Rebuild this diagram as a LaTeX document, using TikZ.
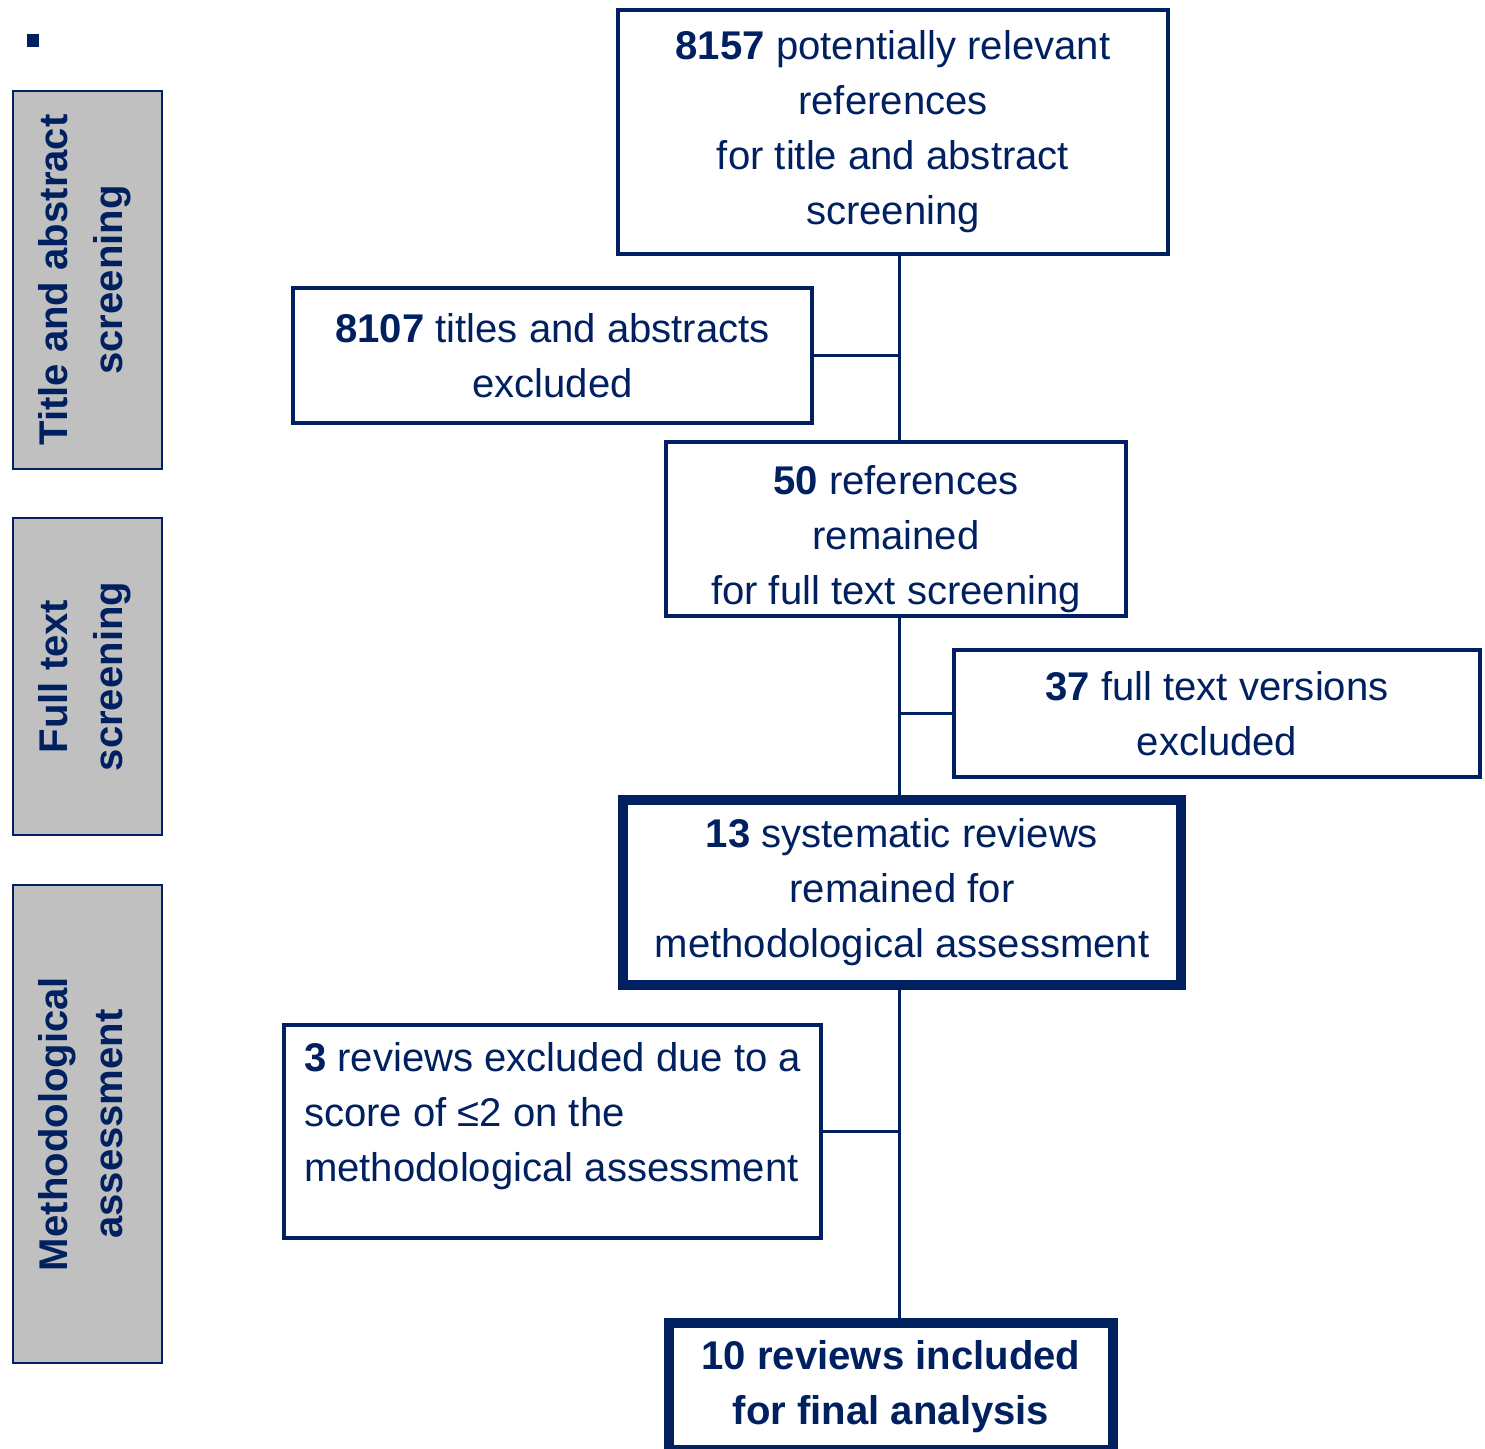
\documentclass[tikz,border=0pt]{standalone}
\usepackage{fontspec}
\setmainfont{Liberation Sans}
\usepackage{xcolor}
\usepackage{tikz}
\usetikzlibrary{positioning,calc}

\definecolor{navy}{HTML}{002060}
\definecolor{phasegray}{HTML}{C0C0C0}

\tikzset{
  refbox/.style={draw=navy, line width=1.15pt, text=navy, align=center, inner sep=0pt,
    font=\fontsize{11.4pt}{15.65pt}\selectfont},
  keybox/.style={refbox, line width=2.85pt},
  phasebox/.style={draw=navy, line width=0.6pt, fill=phasegray, text=navy, rotate=90,
    align=center, inner sep=0pt, font=\fontsize{11.4pt}{15.65pt}\selectfont\bfseries},
  link/.style={draw=navy, line width=0.85pt}
}

\begin{document}
\begin{tikzpicture}[x=0.01cm,y=-0.01cm]
	\useasboundingbox (0,0) rectangle (1485,1448);
	\fill[navy] (27,34) rectangle (39,47);
	% phases
	\node[phasebox, minimum width=3.78cm, minimum height=1.49cm] (title) at (87.5,280) {Title and abstract\\screening\rule[-0.15cm]{0pt}{0pt}};
	\node[phasebox, minimum width=3.17cm, minimum height=1.49cm] (full) at (87.5,676.5) {Full text\\screening\rule[-0.15cm]{0pt}{0pt}};
	\node[phasebox, minimum width=4.78cm, minimum height=1.49cm] (method) at (87.5,1124) {Methodological\\assessment\rule[-0.15cm]{0pt}{0pt}};
	% flow
	\coordinate (trunk) at (899,0);
	\node[refbox, minimum width=5.50cm, minimum height=2.44cm] (A) at (893,132) {\textbf{8157} potentially relevant\\references\\for title and abstract\\screening};
	\node[refbox, minimum width=5.19cm, minimum height=1.35cm] (B) at (552.5,355.5) {\textbf{8107} titles and abstracts\\excluded};
	\node[refbox, minimum width=4.60cm, minimum height=1.74cm] (C) at (896,529) {\rule{0pt}{0.5cm}\textbf{50} references\\remained\\for full text screening};
	\node[refbox, minimum width=5.26cm, minimum height=1.27cm] (D) at (1217,713.5) {\textbf{37} full text versions\\excluded};
	\node[keybox, minimum width=5.58cm, minimum height=1.85cm] (E) at (902,892.5) {\textbf{13} systematic reviews\\remained for\\methodological assessment};
	\node[refbox, minimum width=5.37cm, minimum height=2.13cm, align=left] (F) at (552.5,1131.5) {\textbf{3} reviews excluded due to a\\score of ≤2 on the\\methodological assessment\rule[-0.4cm]{0pt}{0pt}};
	\node[keybox, minimum width=4.44cm, minimum height=1.27cm, font=\fontsize{11.4pt}{15.65pt}\selectfont\bfseries] (G) at (891,1386.5) {10 reviews included\\for final analysis};
	% connectors
	\draw[link] (A.south -| trunk) -- (C.north -| trunk);
	\draw[link] (B.east) -- (B.east -| trunk);
	\draw[link] (C.south -| trunk) -- (E.north -| trunk);
	\draw[link] (D.west) -- (D.west -| trunk);
	\draw[link] (E.south -| trunk) -- (G.north -| trunk);
	\draw[link] (F.east) -- (F.east -| trunk);
\end{tikzpicture}
\end{document}
